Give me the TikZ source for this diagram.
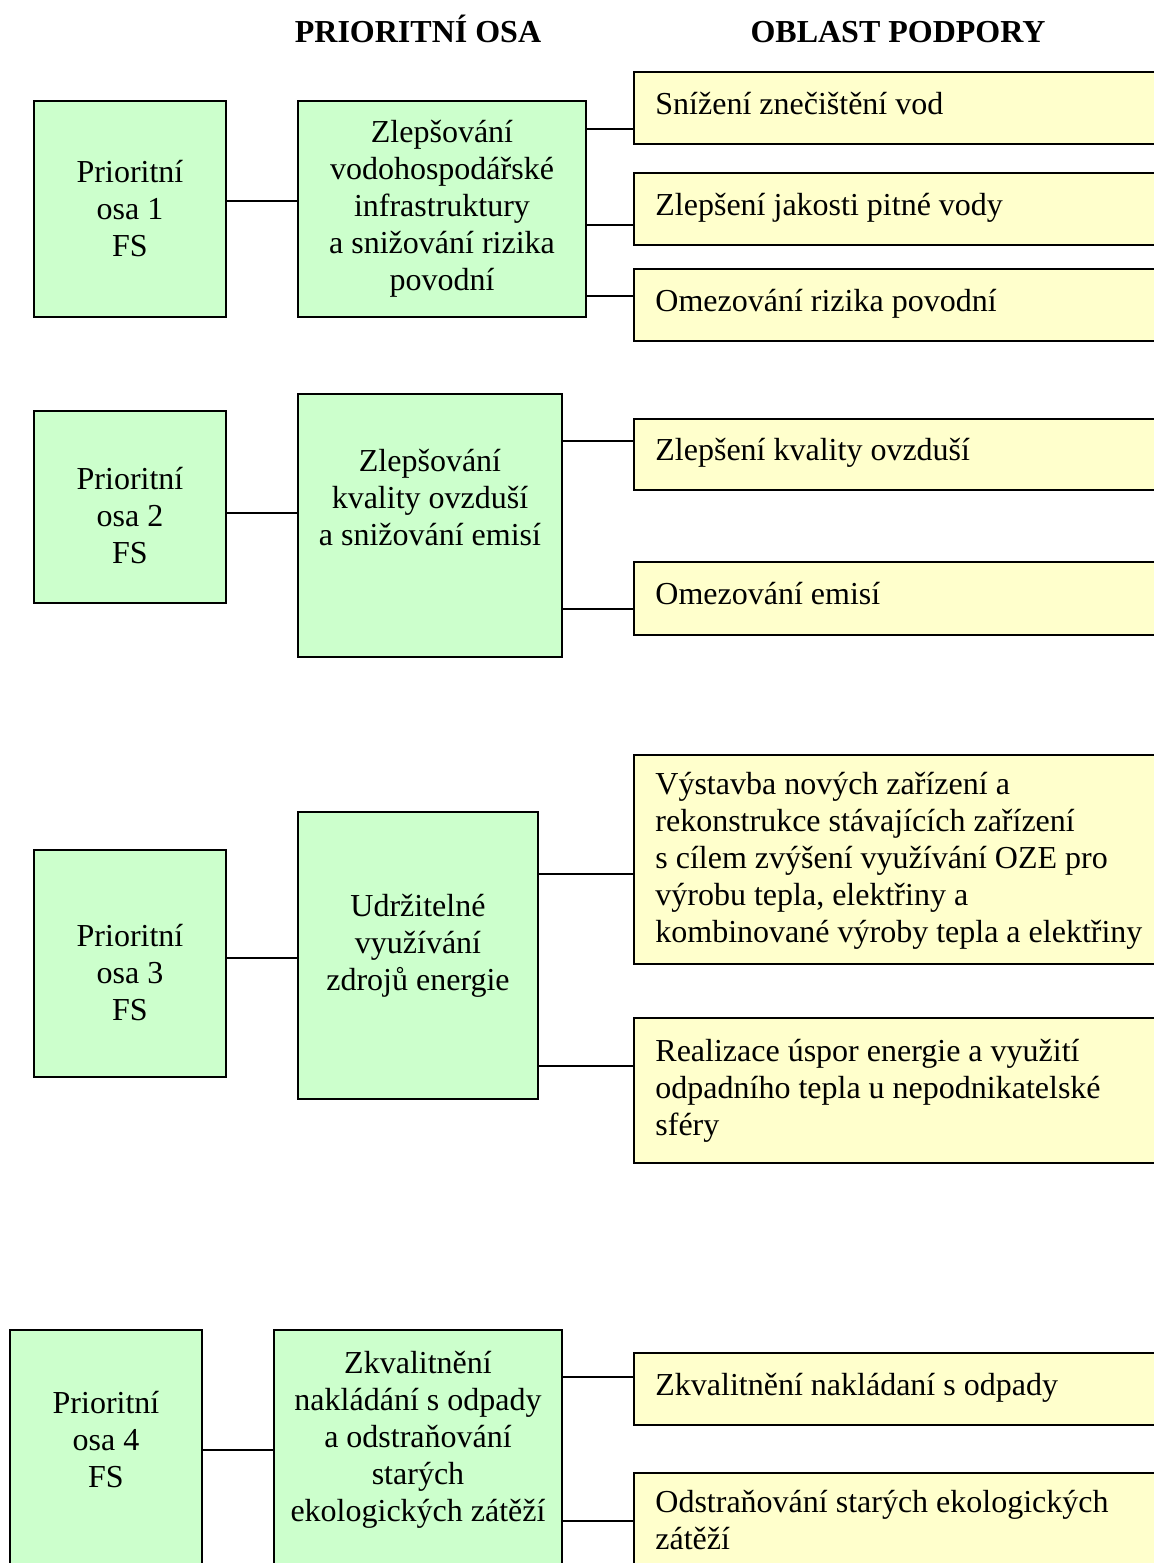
\documentclass[tikz,border=0pt]{standalone}
\usepackage{fontspec}
\setmainfont{Liberation Serif}
\usetikzlibrary{fit}
\definecolor{boxgreen}{HTML}{CCFFCC}
\definecolor{boxyellow}{HTML}{FFFFCC}
\tikzset{
  every node/.style={font=\fontsize{16}{18.5}\selectfont},
  gbox/.style={draw=black, line width=1pt, fill=boxgreen, inner sep=0pt, rectangle},
  ybox/.style={draw=black, line width=1pt, fill=boxyellow, inner sep=0pt, rectangle},
  ctext/.style={align=center, inner sep=0pt, anchor=center,
     execute at begin node=\strut, execute at end node=\strut},
  ltext/.style={align=left, inner sep=0pt, anchor=north west,
     execute at begin node=\strut},
  hdr/.style={font=\fontsize{16}{18.5}\selectfont\bfseries, anchor=base, inner sep=0pt},
  conn/.style={line width=1pt, draw=black}
}
\newcommand{\myconn}[3]{\draw[conn] (#1.east |- 0,#3) -- (#2.west |- 0,#3);}
\begin{document}
\begin{tikzpicture}[x=0.5pt, y=-0.5pt]
\useasboundingbox (0,0) rectangle (1153,1563);
\fill[white] (0,0) rectangle (1153,1563);

% headers
\node[hdr] (h1) at (418,42) {PRIORITNÍ OSA};
\node[hdr] (h2) at (898,42) {OBLAST PODPORY};

% ---------- Row 1
\node[gbox, fit={(34,101)(226,317)}] (P1) {};
\node[ctext] (P1t) at (130,214) {Prioritní\\osa 1\\FS};
\node[gbox, fit={(298,101)(586,317)}] (A1) {};
\node[ctext] (A1t) at (442,211) {Zlepšování\\vodohospodářské\\infrastruktury\\a snižování rizika\\povodní};
\node[ybox, fit={(634,72)(1170,144)}] (B11) {};
\node[ltext] (B11t) at (655,88) {Snížení znečištění vod};
\node[ybox, fit={(634,173)(1170,245)}] (B12) {};
\node[ltext] (B12t) at (655,189) {Zlepšení jakosti pitné vody};
\node[ybox, fit={(634,269)(1170,341)}] (B13) {};
\node[ltext] (B13t) at (655,285) {Omezování rizika povodní};
\myconn{P1}{A1}{201}
\myconn{A1}{B11}{129}
\myconn{A1}{B12}{225}
\myconn{A1}{B13}{296}

% ---------- Row 2
\node[gbox, fit={(34,411)(226,603)}] (P2) {};
\node[ctext] (P2t) at (130,521) {Prioritní\\osa 2\\FS};
\node[gbox, fit={(298,394)(562,657)}] (A2) {};
\node[ctext] (A2t) at (430,503) {Zlepšování\\kvality ovzduší\\a snižování emisí};
\node[ybox, fit={(634,419)(1170,490)}] (B21) {};
\node[ltext] (B21t) at (655,434) {Zlepšení kvality ovzduší};
\node[ybox, fit={(634,562)(1170,635)}] (B22) {};
\node[ltext] (B22t) at (655,578) {Omezování emisí};
\myconn{P2}{A2}{513}
\myconn{A2}{B21}{441}
\myconn{A2}{B22}{609}

% ---------- Row 3
\node[gbox, fit={(34,850)(226,1077)}] (P3) {};
\node[ctext] (P3t) at (130,978) {Prioritní\\osa 3\\FS};
\node[gbox, fit={(298,812)(538,1099)}] (A3) {};
\node[ctext] (A3t) at (418,948) {Udržitelné\\využívání\\zdrojů energie};
\node[ybox, fit={(634,755)(1170,964)}] (B31) {};
\node[ltext] (B31t) at (655,772) {Výstavba nových zařízení a\\rekonstrukce stávajících zařízení\\s cílem zvýšení využívání OZE pro\\výrobu tepla, elektřiny a\\kombinované výroby tepla a elektřiny};
\node[ybox, fit={(634,1018)(1170,1163)}] (B32) {};
\node[ltext] (B32t) at (655,1039) {Realizace úspor energie a využití\\odpadního tepla u nepodnikatelské\\sféry};
\myconn{P3}{A3}{958}
\myconn{A3}{B31}{874}
\myconn{A3}{B32}{1066}

% ---------- Row 4
\node[gbox, fit={(10,1330)(202,1600)}] (P4) {};
\node[ctext] (P4t) at (106,1445) {Prioritní\\osa 4\\FS};
\node[gbox, fit={(274,1330)(562,1600)}] (A4) {};
\node[ctext] (A4t) at (418,1442) {Zkvalitnění\\nakládání s odpady\\a odstraňování\\starých\\ekologických zátěží};
\node[ybox, fit={(634,1353)(1170,1425)}] (B41) {};
\node[ltext] (B41t) at (655,1369) {Zkvalitnění nakládaní s odpady};
\node[ybox, fit={(634,1473)(1170,1600)}] (B42) {};
\node[ltext] (B42t) at (655,1490) {Odstraňování starých ekologických\\zátěží};
\myconn{P4}{A4}{1450}
\myconn{A4}{B41}{1377}
\myconn{A4}{B42}{1521}
\end{tikzpicture}
\end{document}
